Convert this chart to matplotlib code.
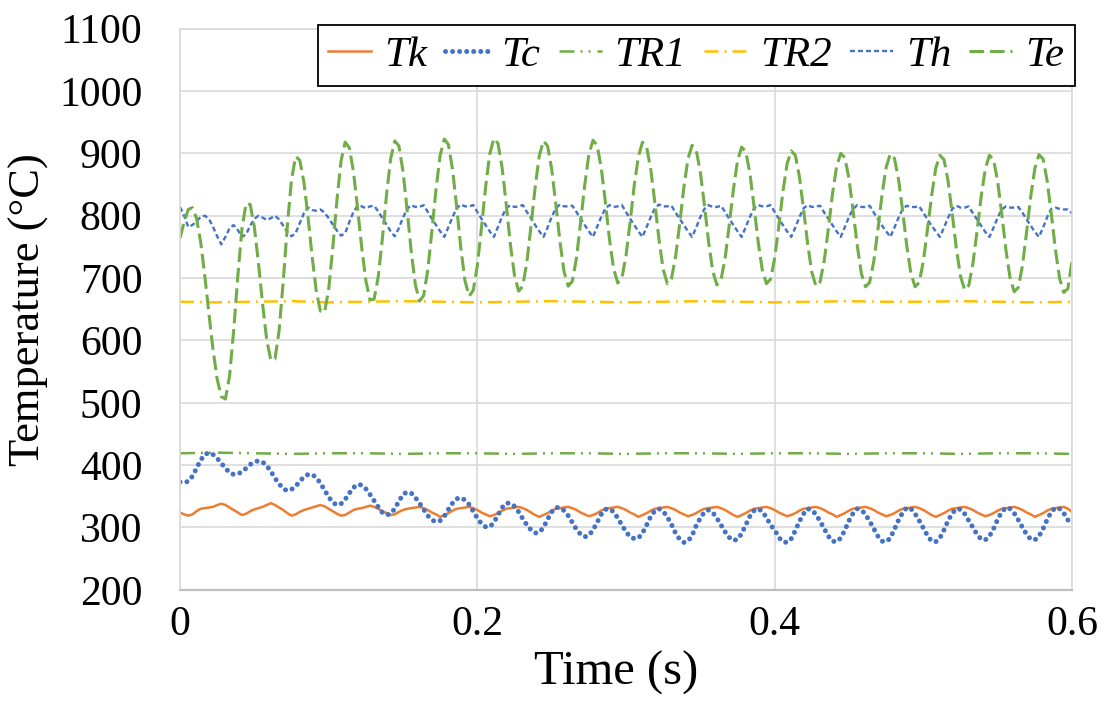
import numpy as np
import matplotlib.pyplot as plt

plt.rcParams['font.family'] = ['Liberation Serif', 'DejaVu Serif']

# sampled every 1/360 s (12 points per 1/30 s cycle), 0 .. 0.6 s
t = np.arange(217) / 360.0
t_r = np.linspace(0, 0.6, 25)

Tk = [324, 321, 319, 321, 326, 330, 331, 332, 333, 336, 338, 336,
      332, 328, 324, 320, 322, 326, 329, 331, 333, 336, 339, 336,
      332, 328, 323, 319, 321, 325, 328, 330, 332, 334, 336, 334,
      330, 326, 322, 319, 320, 324, 328, 330, 331, 333, 335, 333,
      330, 326, 323, 320, 321, 325, 328, 330, 331, 332, 333, 331,
      328, 324, 321, 317, 320, 323, 327, 330, 331, 332, 333, 331,
      328, 324, 321, 318, 320, 323, 327, 330, 331, 332, 333, 331,
      328, 324, 320, 317, 320, 323, 327, 330, 331, 332, 333, 331,
      328, 324, 321, 318, 320, 323, 327, 330, 331, 332, 333, 331,
      328, 324, 321, 317, 320, 323, 327, 330, 331, 332, 333, 331,
      328, 324, 321, 318, 320, 323, 327, 330, 331, 332, 333, 331,
      328, 324, 320, 317, 320, 323, 327, 330, 331, 332, 333, 331,
      328, 324, 321, 318, 320, 323, 327, 330, 331, 332, 333, 331,
      328, 324, 321, 317, 320, 323, 327, 330, 331, 332, 333, 331,
      328, 324, 321, 318, 320, 323, 327, 330, 331, 332, 333, 331,
      328, 324, 320, 317, 320, 323, 327, 330, 331, 332, 333, 331,
      328, 324, 321, 318, 320, 323, 327, 330, 331, 332, 333, 331,
      328, 324, 321, 317, 320, 323, 327, 330, 331, 332, 333, 330,
      325]

Tc = [373, 372, 374, 382, 395, 408, 417, 420, 417, 411, 403, 395,
      388, 385, 386, 389, 395, 401, 405, 407, 405, 399, 390, 379,
      370, 362, 359, 361, 366, 374, 381, 385, 385, 380, 371, 360,
      349, 340, 336, 338, 345, 355, 364, 369, 368, 362, 353, 343,
      333, 324, 320, 322, 330, 342, 353, 357, 355, 348, 339, 329,
      319, 312, 309, 311, 318, 329, 339, 346, 348, 344, 337, 326,
      315, 306, 301, 301, 308, 320, 332, 339, 339, 334, 325, 314,
      304, 296, 291, 292, 300, 313, 325, 332, 332, 327, 319, 308,
      297, 289, 285, 287, 296, 308, 321, 329, 330, 325, 315, 304,
      293, 285, 282, 283, 291, 304, 318, 327, 330, 326, 317, 305,
      291, 281, 276, 278, 287, 303, 315, 325, 328, 324, 315, 304,
      293, 284, 279, 281, 290, 304, 318, 327, 330, 326, 316, 304,
      296, 284, 277, 276, 282, 295, 310, 322, 330, 328, 321, 310,
      298, 286, 278, 277, 283, 296, 311, 323, 330, 328, 321, 310,
      298, 286, 278, 277, 283, 297, 312, 324, 332, 330, 322, 311,
      299, 287, 278, 277, 283, 296, 311, 323, 330, 329, 322, 311,
      300, 289, 281, 280, 286, 298, 313, 325, 332, 330, 323, 312,
      300, 289, 281, 280, 286, 298, 313, 325, 332, 330, 323, 312,
      303]

TR1 = [419, 420, 419, 418, 419, 419, 418, 419, 419, 418, 419, 419, 418,
       419, 419, 418, 419, 419, 418, 419, 419, 418, 419, 419, 418]

TR2 = [662, 661, 662, 663, 661, 662, 663, 662, 661, 662, 663, 662, 661,
       662, 663, 662, 661, 662, 663, 662, 662, 663, 662, 661, 662]

Th = [814, 800, 782, 785, 791, 798, 800, 795, 782, 767, 754, 766,
      780, 785, 777, 766, 770, 784, 795, 800, 797, 793, 796, 800,
      794, 784, 774, 767, 772, 788, 804, 813, 809, 808, 810, 805,
      796, 786, 776, 768, 772, 790, 806, 816, 815, 812, 815, 816,
      807, 796, 786, 775, 767, 780, 797, 811, 817, 814, 814, 817,
      806, 795, 785, 775, 766, 782, 798, 812, 818, 815, 815, 817,
      806, 795, 785, 775, 766, 782, 799, 812, 817, 814, 815, 817,
      806, 796, 785, 775, 766, 781, 798, 812, 818, 815, 815, 816,
      806, 795, 785, 775, 766, 782, 798, 812, 817, 814, 815, 817,
      806, 795, 785, 775, 766, 782, 798, 812, 818, 815, 815, 816,
      805, 795, 785, 775, 766, 781, 798, 811, 817, 814, 814, 816,
      806, 795, 785, 775, 766, 782, 798, 812, 817, 815, 815, 817,
      806, 795, 785, 775, 766, 781, 798, 812, 817, 814, 815, 816,
      805, 795, 785, 775, 766, 782, 798, 811, 817, 814, 814, 816,
      805, 795, 784, 775, 766, 781, 797, 811, 816, 814, 814, 815,
      805, 794, 784, 775, 766, 781, 797, 811, 816, 813, 813, 815,
      804, 794, 784, 774, 766, 781, 797, 810, 815, 813, 813, 814,
      805, 794, 784, 774, 766, 781, 798, 811, 813, 811, 810, 810,
      804]

Te = [764, 790, 810, 813, 796, 758, 704, 643, 585, 538, 510, 506,
      543, 616, 703, 779, 820, 818, 782, 724, 658, 601, 568, 570,
      616, 695, 784, 858, 895, 889, 854, 798, 734, 679, 647, 645,
      682, 749, 825, 888, 918, 909, 871, 812, 749, 696, 665, 666,
      702, 763, 833, 891, 920, 912, 871, 809, 742, 689, 663, 672,
      713, 776, 843, 897, 923, 914, 874, 814, 748, 696, 671, 680,
      720, 781, 846, 899, 924, 916, 877, 818, 754, 704, 679, 687,
      726, 784, 846, 896, 920, 912, 875, 819, 759, 710, 687, 695,
      732, 789, 849, 898, 921, 913, 877, 822, 762, 715, 692, 700,
      736, 790, 849, 895, 918, 910, 874, 820, 761, 714, 691, 699,
      734, 787, 845, 891, 913, 905, 870, 816, 758, 711, 689, 697,
      732, 785, 842, 888, 910, 903, 868, 815, 758, 713, 691, 698,
      732, 783, 839, 883, 904, 897, 862, 810, 754, 709, 687, 694,
      728, 779, 835, 879, 900, 893, 859, 807, 752, 707, 686, 693,
      727, 778, 834, 878, 899, 892, 858, 807, 751, 707, 686, 693,
      727, 778, 832, 876, 897, 890, 855, 803, 747, 703, 681, 688,
      723, 775, 831, 875, 897, 890, 855, 802, 745, 700, 678, 685,
      720, 774, 831, 876, 898, 891, 855, 802, 745, 699, 677, 683,
      728]

xticks = [0, 0.2, 0.4, 0.6]
xticklabels = ['0', '0.2', '0.4', '0.6']
yticks = list(range(200, 1101, 100))

fig = plt.figure(figsize=(11.07, 7.2), dpi=100)
ax = fig.add_axes([0.1626, 0.1808, 0.8058, 0.7794])

ax.plot(t, Tk, color='#ED7D31', lw=1.8, label='Tk')
ax.plot(t, Tc, color='#4472C4', lw=3.6, linestyle=(0, (0.01, 1.4)),
        dash_capstyle='round', label='Tc')
ax.plot(t_r, TR1, color='#70AD47', lw=1.8,
        linestyle=(0, (6, 2.4, 0.8, 2.4, 0.8, 2.8)), label='TR1')
ax.plot(t_r, TR2, color='#FFC000', lw=1.8,
        linestyle=(0, (5.6, 2.4, 0.8, 2.4)), label='TR2')
ax.plot(t, Th, color='#4472C4', lw=1.7, linestyle=(0, (2.1, 1.3)), label='Th')
ax.plot(t, Te, color='#70AD47', lw=2.2, linestyle=(0, (4.8, 1.9)), label='Te')

ax.set_xlim(0, 0.6)
ax.set_ylim(200, 1100)
ax.set_xticks(xticks)
ax.set_xticklabels(xticklabels)
ax.set_yticks(yticks)
ax.grid(color='#D9D9D9', lw=1.2)
ax.set_axisbelow(True)
for s in ax.spines.values():
    s.set_color('#D9D9D9')
    s.set_linewidth(1.2)
ax.spines['bottom'].set_color('#BFBFBF')
ax.spines['bottom'].set_linewidth(1.6)
ax.tick_params(length=0, labelsize=30)
ax.tick_params(axis='y', pad=27)
ax.tick_params(axis='x', pad=11)

ax.set_xlabel('Time (s)', fontsize=35)
ax.xaxis.set_label_coords(0.489, -0.108)
ax.set_ylabel('Temperature (°C)', fontsize=32, labelpad=7)

leg = ax.legend(loc='upper right', bbox_to_anchor=(1.0034, 1.0064), ncol=6,
                prop={'style': 'italic', 'size': 31}, frameon=True, fancybox=False,
                edgecolor='black', framealpha=1, borderaxespad=0,
                handlelength=1.0, handletextpad=0.3, columnspacing=0.42,
                borderpad=0.25)
leg.get_frame().set_linewidth(1.3)

fig.savefig('out.png', dpi=100)
